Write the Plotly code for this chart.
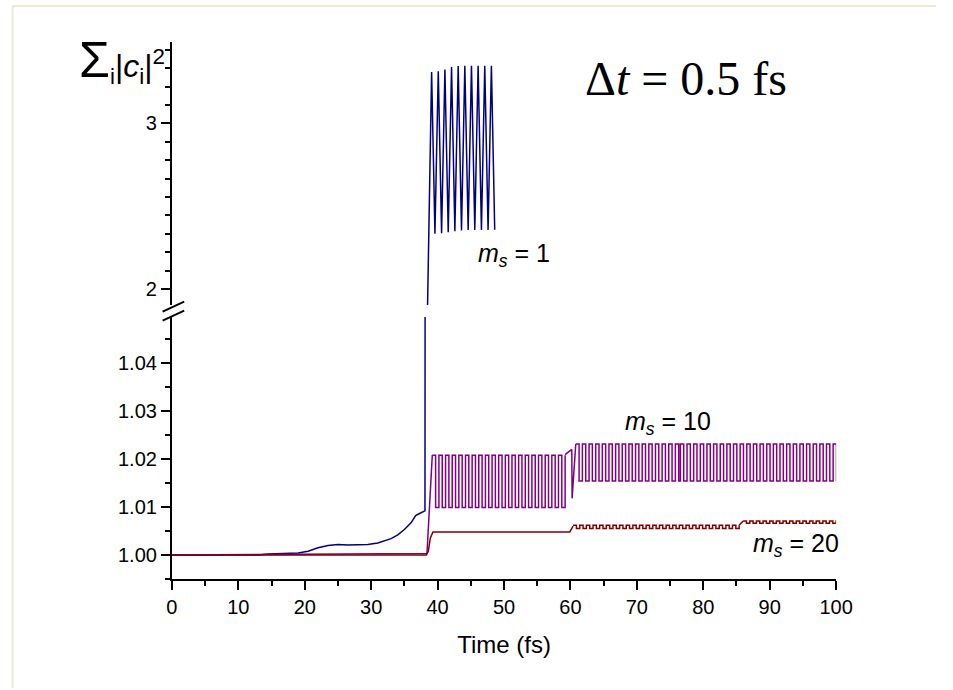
import plotly.graph_objects as go

W, H = 953, 690
# horizontal placement on the page: screen_x = X_SCALE * paper_px + X_OFFSET
X_SCALE, X_OFFSET = 0.977, 4.9

# ---------------- data ----------------
# m_s = 1 : slow rise, then divergence into large oscillations (run stops at 48.6 fs)
ms1_t = [0, 13, 14.5, 16, 17.5, 19, 20.5, 22, 23.5, 25, 26.5, 28, 29.5, 31, 32, 33, 34, 35, 36, 36.7, 37.5, 38.1,
         39.1, 39.6, 40.1, 40.6, 41.1, 41.6, 42.1, 42.6, 43.1, 43.6, 44.1, 44.6, 45.1, 45.6, 46.1, 46.6,
         47.1, 47.6, 48.1, 48.6]
ms1_v = [1.0, 1.0, 1.0002, 1.0003, 1.0003, 1.0004, 1.0008, 1.0015, 1.0020, 1.0022, 1.0021, 1.0022, 1.0022,
         1.0025, 1.0029, 1.0034, 1.0042, 1.0053, 1.0067, 1.0082, 1.0088, 1.0092,
         3.310, 2.334, 3.315, 2.337, 3.325, 2.343, 3.340, 2.349, 3.346, 2.354, 3.347, 2.356, 3.347, 2.357,
         3.347, 2.357, 3.347, 2.357, 3.347, 2.358]

# m_s = 10 : ramp, square oscillation, phase jump near 60 fs, second square oscillation
ms10_ramp_t = [0, 38.4, 39.2]
ms10_ramp_v = [1.0, 1.0003, 1.0208]
ms10_a_t = [39.2 + 0.5 * k for k in range(41)]
ms10_a_v = [1.0208, 1.0099, 1.0208, 1.0099, 1.0208, 1.0099, 1.0208, 1.0099, 1.0208, 1.0099,
            1.0208, 1.0099, 1.0208, 1.0099, 1.0208, 1.0099, 1.0208, 1.0099, 1.0208, 1.0099,
            1.0208, 1.0099, 1.0208, 1.0099, 1.0208, 1.0099, 1.0208, 1.0099, 1.0208, 1.0099,
            1.0208, 1.0099, 1.0208, 1.0099, 1.0208, 1.0099, 1.0208, 1.0099, 1.0208, 1.0099,
            1.0208]
ms10_jump_t = [59.2, 60.2, 60.25, 60.8]
ms10_jump_v = [1.0209, 1.0220, 1.0118, 1.0231]
# second oscillation, with a half-period phase slip near 76 fs
ms10_b_t = [60.8 + 0.5 * k for k in range(32)] + [76.55 + 0.5 * k for k in range(48)]
ms10_b_v = [1.0231, 1.0154, 1.0231, 1.0154, 1.0231, 1.0154, 1.0231, 1.0154, 1.0231, 1.0154,
            1.0231, 1.0154, 1.0231, 1.0154, 1.0231, 1.0154, 1.0231, 1.0154, 1.0231, 1.0154,
            1.0231, 1.0154, 1.0231, 1.0154, 1.0231, 1.0154, 1.0231, 1.0154, 1.0231, 1.0154,
            1.0231, 1.0154,
            1.0231, 1.0154, 1.0231, 1.0154, 1.0231, 1.0154, 1.0231, 1.0154, 1.0231, 1.0154,
            1.0231, 1.0154, 1.0231, 1.0154, 1.0231, 1.0154, 1.0231, 1.0154, 1.0231, 1.0154,
            1.0231, 1.0154, 1.0231, 1.0154, 1.0231, 1.0154, 1.0231, 1.0154, 1.0231, 1.0154,
            1.0231, 1.0154, 1.0231, 1.0154, 1.0231, 1.0154, 1.0231, 1.0154, 1.0231, 1.0154,
            1.0231, 1.0154, 1.0231, 1.0154, 1.0231, 1.0154, 1.0231, 1.0154]

# m_s = 20 : ramp to a plateau, then small oscillations
ms20_ramp_t = [0, 38.3, 38.6, 38.9, 39.3, 59.9, 60.4]
ms20_ramp_v = [1.0, 1.0, 1.0008, 1.0035, 1.0048, 1.0048, 1.0060]
ms20_b_t = [60.4 + 0.5 * k for k in range(51)]
ms20_b_v = [1.0062, 1.0055, 1.0062, 1.0055, 1.0062, 1.0055, 1.0062, 1.0055, 1.0062, 1.0055,
            1.0062, 1.0055, 1.0062, 1.0055, 1.0062, 1.0055, 1.0062, 1.0055, 1.0062, 1.0055,
            1.0062, 1.0055, 1.0062, 1.0055, 1.0062, 1.0055, 1.0062, 1.0055, 1.0062, 1.0055,
            1.0062, 1.0055, 1.0062, 1.0055, 1.0062, 1.0055, 1.0062, 1.0055, 1.0062, 1.0055,
            1.0062, 1.0055, 1.0062, 1.0055, 1.0062, 1.0055, 1.0062, 1.0055, 1.0062, 1.0055,
            1.0062]
ms20_jump_t = [85.4, 86.0]
ms20_jump_v = [1.0062, 1.0071]
ms20_c_t = [86.0 + 0.5 * k for k in range(30)]
ms20_c_v = [1.0071, 1.0066, 1.0071, 1.0066, 1.0071, 1.0066, 1.0071, 1.0066, 1.0071, 1.0066,
            1.0071, 1.0066, 1.0071, 1.0066, 1.0071, 1.0066, 1.0071, 1.0066, 1.0071, 1.0066,
            1.0071, 1.0066, 1.0071, 1.0066, 1.0071, 1.0066, 1.0071, 1.0066, 1.0071, 1.0066]

x_ticks = [0, 10, 20, 30, 40, 50, 60, 70, 80, 90, 100]

C_BLUE = "#000080"
C_MAG = "#800080"
C_RED = "#800000"
LW = 1.5


def px(x):
    return (x - X_OFFSET) / X_SCALE / W


def py(y):
    return 1 - y / H


fig = go.Figure()


def add(t, v, color, shape="linear", upper=False):
    fig.add_trace(go.Scatter(x=t, y=v, mode="lines", line=dict(color=color, width=LW, shape=shape),
                             xaxis="x2" if upper else "x", yaxis="y2" if upper else "y",
                             hoverinfo="skip", showlegend=False))


# m_s = 1 spans both panels of the broken axis
add(ms1_t, ms1_v, C_BLUE)
add(ms1_t, ms1_v, C_BLUE, upper=True)
# m_s = 10
add(ms10_ramp_t, ms10_ramp_v, C_MAG)
add(ms10_a_t, ms10_a_v, C_MAG, shape="hv")
add(ms10_jump_t, ms10_jump_v, C_MAG)
add(ms10_b_t, ms10_b_v, C_MAG, shape="hv")
# m_s = 20
add(ms20_ramp_t, ms20_ramp_v, C_RED)
add(ms20_b_t, ms20_b_v, C_RED, shape="hv")
add(ms20_jump_t, ms20_jump_v, C_RED)
add(ms20_c_t, ms20_c_v, C_RED, shape="hv")

SANS = "Liberation Sans, Arial, sans-serif"
SERIF = "Liberation Serif, Times New Roman, serif"
tickfont = dict(family=SANS, size=20, color="black")

x_dom = [px(171), px(836)]
low_bot, low_top = 579, 317
up_bot, up_top = 305, 42

axis_common = dict(showline=True, linecolor="black", linewidth=2, ticks="outside", tickwidth=2,
                   ticklen=9, tickcolor="black", showgrid=False, zeroline=False, tickfont=tickfont)

fig.update_layout(
    width=W, height=H, autosize=False, margin=dict(l=0, r=0, t=0, b=0),
    paper_bgcolor="white", plot_bgcolor="white",
    xaxis=dict(domain=x_dom, range=[0, 100], anchor="y", tickvals=x_ticks,
               minor=dict(ticks="outside", ticklen=5, tickwidth=1.5, dtick=5, tick0=0, tickcolor="black"),
               title=dict(text="Time (fs)", font=dict(family=SANS, size=24, color="black"), standoff=19),
               **axis_common),
    yaxis=dict(domain=[py(low_bot), py(low_top)], range=[0.995, 0.995 + (low_bot - low_top) / 4800],
               anchor="x", tick0=1.0, dtick=0.01, tickformat=".2f",
               minor=dict(ticks="outside", ticklen=5, tickwidth=1.5, dtick=0.005, tick0=1.0, tickcolor="black"),
               **axis_common),
    xaxis2=dict(domain=x_dom, range=[0, 100], anchor="y2", visible=False, matches="x"),
    yaxis2=dict(domain=[py(up_bot), py(up_top)],
                range=[2 - (up_bot - 289) / 166, 3 + (123.5 - up_top) / 166],
                anchor="x2", tick0=2, dtick=1,
                minor=dict(ticks="outside", ticklen=5, tickwidth=1.5, dtick=1 / 9, tick0=2, tickcolor="black"),
                **axis_common),
)

# axis-break marks
for y0 in (311.7, 320.7):
    fig.add_shape(type="line", xref="paper", yref="paper", x0=px(161.7), y0=py(y0), x1=px(183.3), y1=py(y0 - 10),
                  line=dict(color="black", width=2))

# outer frame
fig.add_shape(type="line", xref="paper", yref="paper", x0=px(11.5), y0=py(6), x1=px(11.5), y1=py(688),
              line=dict(color="#ECE9D8", width=2))
fig.add_shape(type="line", xref="paper", yref="paper", x0=px(11), y0=py(6), x1=1, y1=py(6),
              line=dict(color="#ECE9D8", width=2))

# y-axis title
fig.add_annotation(text="<span style='font-size:50px'>Σ</span><sub>i</sub>|<i>c</i><sub>i</sub>|<sup>2</sup>",
                   xref="paper", yref="paper",
                   x=px(76), y=py(61), xanchor="left", yanchor="middle", showarrow=False,
                   font=dict(family=SANS, size=32, color="black"))
# time step label
fig.add_annotation(text="Δ<i>t</i> = 0.5 fs", xref="paper", yref="paper",
                   x=px(583), y=py(78), xanchor="left", yanchor="middle", showarrow=False,
                   font=dict(family=SERIF, size=48, color="black"))
# series labels
for text_val, lx, ly in (("1", 475, 255), ("10", 623, 423), ("20", 751, 545)):
    fig.add_annotation(text=f"<i>m</i><sub><i>s</i></sub> = {text_val}", xref="paper", yref="paper",
                       x=px(lx), y=py(ly), xanchor="left", yanchor="middle", showarrow=False,
                       font=dict(family=SANS, size=25, color="black"))

fig.write_html("out.html", config={"responsive": False})
